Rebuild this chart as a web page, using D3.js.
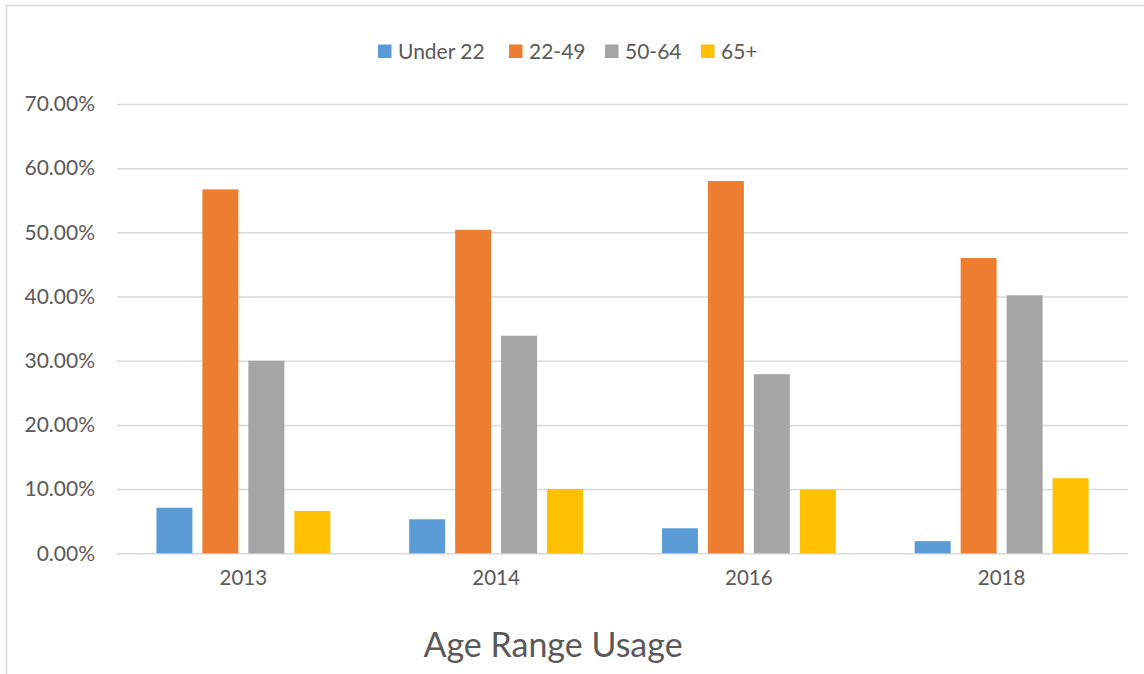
<!DOCTYPE html>
<html>
<head>
<meta charset="utf-8">
<script src="https://cdn.jsdelivr.net/npm/d3@7"></script>
<style>
  html, body { margin: 0; padding: 0; background: #ffffff; }
  svg { display: block; font-family: Lato, "Open Sans", sans-serif; }
</style>
</head>
<body>
<svg id="chart" width="1144" height="674"></svg>
<script>
// Survey years on the category axis
const years = ["2013", "2014", "2016", "2018"];
// Age groups, one bar per group in each year
const ageGroups = ["Under 22", "22-49", "50-64", "65+"];
// Share of users per age group, indexed by year
const under22 = [0.071, 0.053, 0.039, 0.019];
const age22to49 = [0.567, 0.504, 0.580, 0.460];
const age50to64 = [0.300, 0.339, 0.279, 0.402];
const age65plus = [0.066, 0.100, 0.099, 0.117];
// Value axis ticks
const yTicks = [0, 0.1, 0.2, 0.3, 0.4, 0.5, 0.6, 0.7];
const groupColors = ["#5B9BD5", "#ED7D31", "#A5A5A5", "#FFC000"];
const chartTitle = "Age Range Usage";

const seriesValues = [under22, age22to49, age50to64, age65plus];
const rows = [];
years.forEach((yr, i) => {
  ageGroups.forEach((g, j) => rows.push({ year: yr, group: g, value: seriesValues[j][i] }));
});

const svg = d3.select("#chart");
const textColor = "#595959";
const gridColor = "#d9d9d9";

// Outer chart frame
svg.append("rect")
  .attr("x", 6.5).attr("y", 5.5)
  .attr("width", 1160).attr("height", 690)
  .attr("fill", "#fff")
  .attr("stroke", gridColor).attr("stroke-width", 1.5);

const plot = { left: 117, right: 1128, top: 104, bottom: 553.3 };

const x = d3.scaleBand().domain(years).range([plot.left, plot.right]).paddingInner(0).paddingOuter(0);
const y = d3.scaleLinear().domain([0, 0.7]).range([plot.bottom, plot.top]);

const clusterWidth = x.bandwidth() * 0.688;
const xInner = d3.scaleBand().domain(ageGroups)
  .range([(x.bandwidth() - clusterWidth) / 2, (x.bandwidth() + clusterWidth) / 2])
  .paddingInner(10 / 46).paddingOuter(0);
const color = d3.scaleOrdinal().domain(ageGroups).range(groupColors);

// Horizontal gridlines and percentage labels
const yAxis = d3.axisLeft(y)
  .tickValues(yTicks)
  .tickFormat(d3.format(".2%"))
  .tickSize(-(plot.right - plot.left))
  .tickPadding(22);

const yG = svg.append("g")
  .attr("transform", `translate(${plot.left},0)`)
  .call(yAxis);
yG.select(".domain").remove();
yG.selectAll(".tick line").attr("stroke", gridColor).attr("stroke-width", 1.5);
yG.selectAll(".tick text")
  .attr("fill", textColor)
  .style("font-size", "21px")
  .style("font-family", "Lato, 'Open Sans', sans-serif");

// Bars
svg.append("g")
  .selectAll("rect")
  .data(rows)
  .join("rect")
  .attr("x", d => x(d.year) + xInner(d.group))
  .attr("y", d => y(d.value))
  .attr("width", xInner.bandwidth())
  .attr("height", d => y(0) - y(d.value))
  .attr("fill", d => color(d.group));

// Category axis labels
const xAxis = d3.axisBottom(x).tickSize(0).tickPadding(17);
const xG = svg.append("g")
  .attr("transform", `translate(0,${plot.bottom})`)
  .call(xAxis);
xG.select(".domain").remove();
xG.selectAll(".tick text")
  .attr("fill", textColor)
  .style("font-size", "20.5px")
  .style("font-family", "Lato, 'Open Sans', sans-serif");

// Legend across the top
const legendItems = [
  { key: ageGroups[0], x: 378 },
  { key: ageGroups[1], x: 509 },
  { key: ageGroups[2], x: 605 },
  { key: ageGroups[3], x: 701 }
];
const legend = svg.append("g");
const li = legend.selectAll("g").data(legendItems).join("g")
  .attr("transform", d => `translate(${d.x},44.5)`);
li.append("rect").attr("width", 13.5).attr("height", 13.5).attr("fill", d => color(d.key));
li.append("text")
  .attr("x", 20).attr("y", 7)
  .attr("dy", "0.35em")
  .attr("fill", textColor)
  .style("font-size", "21px")
  .text(d => d.key);

// Chart title below the axis
svg.append("text")
  .attr("x", 553).attr("y", 657)
  .attr("text-anchor", "middle")
  .attr("fill", textColor)
  .style("font-size", "34px")
  .text(chartTitle);
</script>
</body>
</html>
